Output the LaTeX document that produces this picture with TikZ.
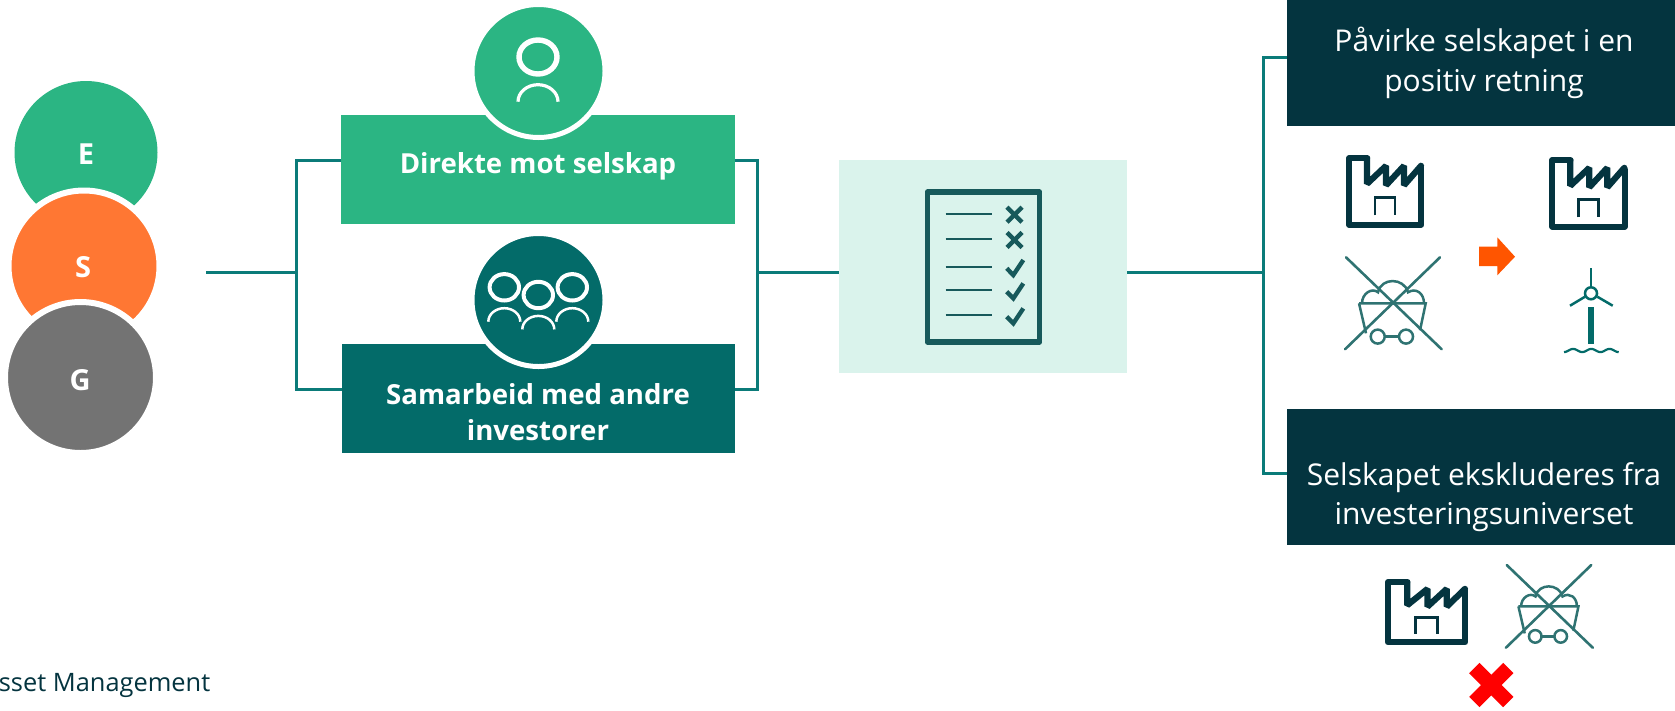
\documentclass[tikz,border=0pt]{standalone}
\usepackage{fontspec}
\setmainfont{Open Sans}
\usetikzlibrary{positioning}
\definecolor{esggreen}{HTML}{2BB583}
\definecolor{esgorange}{HTML}{FF7733}
\definecolor{esggrey}{HTML}{737373}
\definecolor{deepteal}{HTML}{036B69}
\definecolor{linkteal}{HTML}{0B7B79}
\definecolor{paleteal}{HTML}{DAF3EC}
\definecolor{darkpetrol}{HTML}{04343F}
\definecolor{listteal}{HTML}{17595B}
\definecolor{cartteal}{HTML}{2F7372}
\definecolor{arroworange}{HTML}{FF5500}
\tikzset{
  factory/.pic={
    \draw[darkpetrol,line width=6pt,line join=round,line cap=round] (21.3,3) -- (3,3) -- (3,69.3) -- (75.3,69.3) -- (75.3,12);
    \draw[darkpetrol,line width=6.2pt,line join=miter,miter limit=2,line cap=round] (21,4) -- (21,28.5) -- (40,10.5) -- (40,30) -- (58,10.5) -- (58,30) -- (75,10.5);
    \draw[darkpetrol,line width=2.8pt] (29,60) -- (29,42.3) -- (49,42.3) -- (49,60);
  },
  cart/.pic={
    \draw[cartteal,line width=2.6pt,line cap=round] (0,0) -- (95.7,92);
    \draw[cartteal,line width=2.6pt,line cap=round] (94,0) -- (-1,92);
    \draw[cartteal,line width=2.5pt] (13,46) -- (79.7,46) -- (74,73);
    \draw[cartteal,line width=2.5pt] (13,46) -- (20,76);
    \draw[cartteal,line width=2.5pt] (16,46) .. controls (16,36) and (26,30) .. (32,35) .. controls (35,20) and (58,20) .. (62,35) .. controls (70,30) and (78,36) .. (78,46);
    \draw[cartteal,line width=2.5pt] (31.7,79.3) circle (7);
    \draw[cartteal,line width=2.5pt] (60,79.3) circle (7);
    \draw[cartteal,line width=2.5pt] (38.7,79.3) -- (53,79.3);
  }
}
\begin{document}
\begin{tikzpicture}[x=1pt,y=-1pt,
    esg node/.style={circle,inner sep=0pt,outer sep=0pt,draw=white,line width=6pt,minimum size=151pt},
    esg text/.style={text=white,font=\fontsize{29}{29}\selectfont\bfseries},
    head node/.style={circle,inner sep=0pt,outer sep=0pt,draw=white,line width=5pt,minimum size=133pt},
    box node/.style={rectangle,inner sep=0pt,outer sep=0pt,minimum width=394pt,minimum height=108.7pt},
    box text/.style={align=center,text=white,font=\fontsize{27.6}{36}\selectfont\bfseries},
    goal node/.style={rectangle,inner sep=0pt,outer sep=0pt,fill=darkpetrol,minimum width=388pt},
    goal text/.style={align=center,text=white,font=\fontsize{30}{39.5}\selectfont},
    link/.style={linkteal,line width=3pt},
    list line/.style={listteal,line width=2.2pt}]

  \useasboundingbox (0,0) rectangle (1675,710);

  \node[circle,inner sep=0pt,outer sep=0pt,fill=esggreen,minimum size=143pt] (E) at (86,152.5) {};
  \node[esg node,fill=esgorange] (S) at (84,266) {};
  \node[esg node,fill=esggrey] (G) at (80.5,377.5) {};
  \node[esg text] (E text) at (86,154.5) {E};
  \node[esg text] (S text) at (83,267) {S};
  \node[esg text] (G text) at (80,380) {G};

  \coordinate (start) at (206,272.5);
  \coordinate (fork1) at (296,272.5);
  \coordinate (direkte in) at (341,160.5);
  \coordinate (samarbeid in) at (342,389.5);
  \coordinate (direkte out) at (735,160.5);
  \coordinate (samarbeid out) at (735,389.5);
  \coordinate (fork2) at (757,272);
  \coordinate (list in) at (839,272);
  \coordinate (list out) at (1127,272);
  \coordinate (fork3) at (1263,272);
  \coordinate (goal1 in) at (1287,57);
  \coordinate (goal2 in) at (1287,473.5);

  \draw[link] (start) -- (fork1);
  \draw[link] (direkte in) -| (fork1) |- (samarbeid in);
  \draw[link] (direkte out) -| (fork2) |- (samarbeid out);
  \draw[link] (fork2) -- (list in);
  \draw[link] (list out) -- (fork3);
  \draw[link] (goal1 in) -| (fork3) |- (goal2 in);

  \node[box node,fill=esggreen] (direkte) at (538,169.3) {};
  \node[box node,fill=deepteal,minimum width=393pt] (samarbeid) at (538.5,398.3) {};
  \node[head node,fill=esggreen] (person) at (538.5,71) {};
  \node[head node,fill=deepteal] (group) at (538.5,300) {};
  \node[box text] (direkte text) at (538,166.5) {Direkte mot selskap};
  \node[box text] (samarbeid text) at (538,412) {Samarbeid med andre\\investorer};

  \draw[white,line width=5.4pt] (538,57) ellipse (19 and 17);
  \draw[white,line width=3.2pt] (518,101.7) arc (180:360:20 and 17);

  \foreach \cx/\cy in {504.3/287.3,538.3/295,572.3/287.3} {
    \draw[white,line width=4pt] (\cx,\cy) ellipse (14.7 and 13.2);
    \draw[white,line width=2.5pt] (\cx-16,\cy+34.4) arc (180:360:16 and 13.5);
  }

  \node[rectangle,inner sep=0pt,outer sep=0pt,fill=paleteal,minimum width=288pt,minimum height=212.7pt] (list) at (983,266.3) {};

  \draw[listteal,line width=5.6pt,line join=round] (927.5,192) rectangle (1039.5,342);
  \foreach \ly in {214.3,239.3,267.3,290.3,315} {
    \draw[list line] (945.7,\ly) -- (991.7,\ly);
  }
  \foreach \ly in {214.7,240} {
    \draw[listteal,line width=4.4pt] (1007,\ly-7.5) -- (1022,\ly+7.5);
    \draw[listteal,line width=4.4pt] (1022,\ly-7.5) -- (1007,\ly+7.5);
  }
  \foreach \ly in {268.3,291.7,316.7} {
    \draw[listteal,line width=4.4pt] (1006.7,\ly) -- (1013.3,\ly+6.7) -- (1023.3,\ly-8.3);
  }

  \node[goal node,minimum height=125.7pt] (goal1) at (1481,62.85) {};
  \node[goal node,minimum height=136pt] (goal2) at (1481,477) {};
  \node[goal text] (goal1 text) at (1484,63) {Påvirke selskapet i en\\positiv retning};
  \node[goal text] (goal2 text) at (1484,497) {Selskapet ekskluderes fra\\investeringsuniverset};

  \pic at (1346,155.3) {factory};
  \pic at (1549.3,157.3) {factory};
  \pic[xscale=1.07,yscale=.91] at (1384.7,579.3) {factory};
  \pic at (1346,257.3) {cart};
  \pic[scale=.9] at (1506.7,565) {cart};

  \fill[arroworange] (1479,246.7) -- (1497.3,246.7) -- (1497.3,237.3) -- (1515,256.7) -- (1497.3,275.3) -- (1497.3,266) -- (1479,266) -- cycle;

  \draw[deepteal,line width=2.5pt] (1591,293.3) circle (6);
  \draw[deepteal,line width=2.5pt] (1591,286.7) -- (1591,268.3);
  \draw[deepteal,line width=2.5pt] (1585,296.7) -- (1570,305.7);
  \draw[deepteal,line width=2.5pt] (1597.3,296.7) -- (1612.7,305.7);
  \draw[deepteal,line width=6pt] (1591,307.3) -- (1591,344.3);
  \draw[deepteal,line width=2.2pt] plot[domain=0:54.7,samples=50] ({1564+\x},{350.5+1.6*cos(\x*19.78)});

  \draw[red,line width=14.6pt] (1474.3,668) -- (1508.3,702);
  \draw[red,line width=14.6pt] (1508.3,668) -- (1474.3,702);

  \node[anchor=base east,text=darkpetrol,inner sep=0pt,font=\fontsize{25.4}{25.4}\selectfont] (footer) at (210.5,691.7) {Asset Management};

\end{tikzpicture}
\end{document}
